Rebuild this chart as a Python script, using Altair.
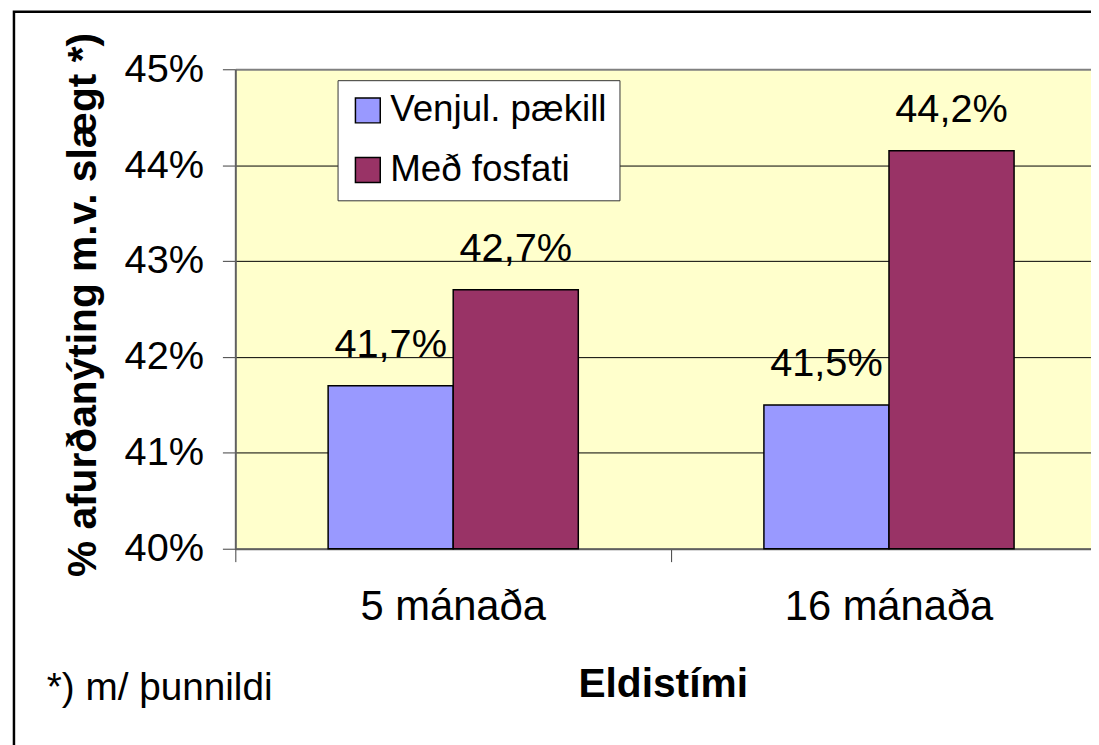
import altair as alt
import pandas as pd

# ---- data ----
categories = ["5 mánaða", "16 mánaða"]
series_names = ["Venjul. pækill", "Með fosfati"]
venjul_values = [0.417, 0.415]
fosfat_values = [0.427, 0.4415]
venjul_labels = ["41,7%", "41,5%"]
fosfat_labels = ["42,7%", "44,2%"]
y_ticks = [0.40, 0.41, 0.42, 0.43, 0.44, 0.45]
colors = ["#9999FF", "#993366"]
y_title = "% afurðanýting m.v. slægt *)"
x_title = "Eldistími"
footnote = "*) m/ þunnildi"

rows = []
for i, c in enumerate(categories):
    rows.append({"cat": c, "series": series_names[0], "value": venjul_values[i], "label": venjul_labels[i]})
    rows.append({"cat": c, "series": series_names[1], "value": fosfat_values[i], "label": fosfat_labels[i]})
df = pd.DataFrame(rows)

FONT = "Liberation Sans"
W, H = 862, 483
BAND = 439

x_enc = alt.X(
    "cat:N", sort=categories,
    scale=alt.Scale(range=[0, 2 * BAND], paddingInner=0, paddingOuter=0),
    axis=alt.Axis(
        title=x_title, bandPosition=0, labelAngle=0, labelLimit=500,
        tickSize=13, labelPadding=25, labelFontSize=42, labelFont=FONT, labelColor="black",
        tickColor="#404040", domainColor="#606060", domainWidth=2,
        titleFont=FONT, titleFontSize=41, titleFontWeight="bold", titleColor="black",
        titleX=430.5, titleY=149, titleBaseline="alphabetic", titleAlign="center",
        grid=False,
    ),
)
xoff_enc = alt.XOffset("series:N", sort=series_names,
                       scale=alt.Scale(paddingOuter=0.742, paddingInner=0))
y_enc = alt.Y(
    "value:Q",
    scale=alt.Scale(domain=[0.40, 0.45], zero=False, nice=False),
    axis=alt.Axis(
        title=y_title, values=y_ticks, format=".0%",
        tickSize=13, labelPadding=19, labelFontSize=40, labelFont=FONT, labelColor="black",
        tickColor="#404040", domainColor="#606060", domainWidth=2,
        gridColor=alt.condition("datum.value > 0.449", alt.value("#808080"), alt.value("#000000")),
        gridWidth=alt.condition("datum.value > 0.449", alt.value(2), alt.value(1)),
        titleFont=FONT, titleFontSize=41, titleFontWeight="bold", titleColor="black",
        titleAngle=270, titleX=-141, titleY=237, titleBaseline="alphabetic", titleAlign="center",
    ),
)
color_enc = alt.Color(
    "series:N", sort=series_names,
    scale=alt.Scale(domain=series_names, range=colors),
    legend=alt.Legend(
        title=None, orient="none", legendX=103, legendY=11,
        symbolType="square", symbolSize=625, symbolStrokeColor="black", symbolStrokeWidth=1.5,
        symbolOpacity=1, labelFontSize=37, labelFont=FONT, labelColor="black", labelOffset=4,
        rowPadding=22, padding=12, fillColor="white", strokeColor="#333333", labelLimit=400,
    ),
)

base = alt.Chart(df)
bars = base.mark_bar(stroke="black", strokeWidth=1.5).encode(
    x=x_enc, xOffset=xoff_enc, y=y_enc, y2=alt.datum(0.40), color=color_enc
)
labels = base.mark_text(font=FONT, fontSize=40, baseline="alphabetic", dy=-29, color="black").encode(
    x=x_enc, xOffset=xoff_enc, y=y_enc, text="label:N"
)

one = pd.DataFrame({"k": [0]})
frame = alt.Chart(one).mark_rect(filled=False, stroke="black", strokeWidth=2.5).encode(
    x=alt.value(-223), x2=alt.value(2000), y=alt.value(-58), y2=alt.value(2000)
)
foot = alt.Chart(one).mark_text(
    text=footnote, font=FONT, fontSize=39, align="left", baseline="alphabetic", color="black"
).encode(x=alt.value(-190), y=alt.value(635))

chart = alt.layer(bars, labels, foot, frame).properties(
    width=W, height=H,
    autosize=alt.AutoSizeParams(type="none"),
    padding={"left": 229, "top": 59, "right": 0, "bottom": 195},
    background="white",
).configure_view(stroke="transparent", fill="#FFFFCC")

chart.save("out.html", embed_options={"renderer": "svg", "actions": False})
